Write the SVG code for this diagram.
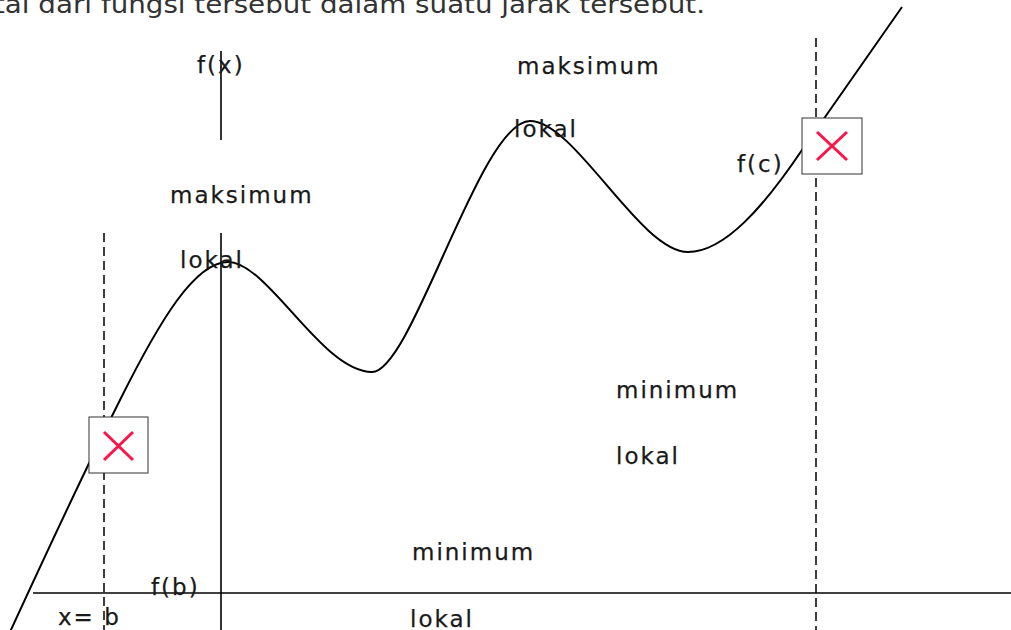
<svg xmlns="http://www.w3.org/2000/svg" width="1011" height="630" viewBox="0 0 1011 630">
<style>
.t{font-family:"DejaVu Sans",Verdana,sans-serif;font-size:23px;letter-spacing:2px;fill:#1a1a1a;stroke:#1a1a1a;stroke-width:0.25}
.hd{font-family:"DejaVu Sans",Verdana,sans-serif;font-size:25px;fill:#333}
.ax{stroke:#000;stroke-width:1.6;fill:none}
.ds{stroke:#000;stroke-width:1.5;fill:none;stroke-dasharray:9 5}
.cv{stroke:#000;stroke-width:2;fill:none}
.bx{fill:#fff;stroke:#333;stroke-width:1}
.x{stroke:#ff1449;stroke-width:3;fill:none}
</style>
<rect width="1011" height="630" fill="#fff"/>
<text class="hd" x="-6" y="13" textLength="711" lengthAdjust="spacingAndGlyphs">tal dari fungsi tersebut dalam suatu jarak tersebut.</text>
<g id="connectors">
<line class="ax" x1="33" y1="593" x2="1011" y2="593"/>
<line class="ax" x1="221" y1="51" x2="221" y2="140"/>
<line class="ax" x1="221" y1="233" x2="221" y2="630"/>
<line class="ds" x1="104" y1="233" x2="104" y2="630"/>
<line class="ds" x1="816" y1="38" x2="816" y2="630"/>
<path class="cv" d="M10 632 C50 545 90 460 120 400 C160 320 195 262 228 262 C268 262 322 372 372 372 C412 372 480 121 530 121 C575 121 640 252 688 252 C725 252 765 205 802 150 L902 7"/>
</g>
<g id="box-b">
<rect class="bx" x="89" y="417" width="59" height="56"/>
<path class="x" d="M104 432 L133 460 M133 432 L104 460"/>
</g>
<g id="box-c">
<rect class="bx" x="802" y="118" width="60" height="56"/>
<path class="x" d="M817 132 L847 160 M847 132 L817 160"/>
</g>
<g id="labels">
<text class="t" x="197" y="73">f(x)</text>
<text class="t" x="170" y="203">maksimum</text>
<text class="t" x="180" y="268">lokal</text>
<text class="t" x="517" y="74">maksimum</text>
<text class="t" x="514" y="137">lokal</text>
<text class="t" x="737" y="172">f(c)</text>
<text class="t" x="616" y="398">minimum</text>
<text class="t" x="616" y="464">lokal</text>
<text class="t" x="412" y="560">minimum</text>
<text class="t" x="410" y="627">lokal</text>
<text class="t" x="151" y="595">f(b)</text>
<text class="t" x="58" y="625">x= b</text>
</g>
</svg>
